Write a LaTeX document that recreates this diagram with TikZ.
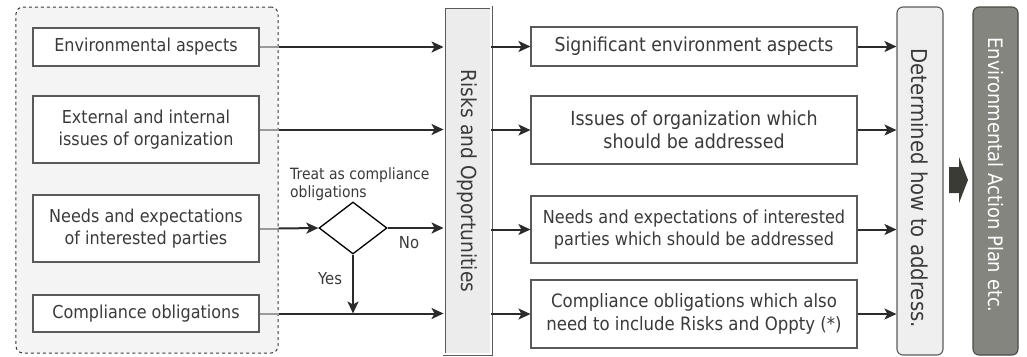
\documentclass[tikz,border=0pt]{standalone}
\usepackage{fontspec}
\setmainfont{DejaVu Sans}[FakeStretch=0.9]
\usetikzlibrary{shapes.geometric,arrows.meta}
\definecolor{txt}{HTML}{3A3A3A}
\definecolor{boxline}{HTML}{5A5A5A}
\definecolor{arrowc}{HTML}{2B2B2B}
\definecolor{stubc}{HTML}{9A9A9A}
\definecolor{contfill}{HTML}{F4F4F4}
\definecolor{rofill}{HTML}{ECECEC}
\definecolor{dhfill}{HTML}{EFEFEF}
\definecolor{eapfill}{HTML}{858580}
\definecolor{eapline}{HTML}{4A4A45}
\definecolor{blockc}{HTML}{3B3B36}
\tikzset{
  inbox/.style={draw=boxline, line width=1.1bp, fill=white, text=txt, inner sep=0pt,
    align=center, minimum width=226bp, font=\fontsize{17.8bp}{22.7bp}\selectfont},
  outbox/.style={draw=boxline, line width=1.1bp, fill=white, text=txt, inner sep=0pt,
    align=center, minimum width=326bp},
  flow/.style={draw=arrowc, line width=2bp, -{Stealth[length=12bp,width=11bp,inset=3bp]}},
  stub/.style={draw=stubc, line width=2bp},
  plain/.style={draw=arrowc, line width=2bp},
  smalltext/.style={text=txt, inner sep=0pt, font=\fontsize{15.5bp}{18.5bp}\selectfont},
  vtext/.style={text=txt, inner sep=0pt, rotate=-90},
}
\begin{document}
\begin{tikzpicture}[x=1bp,y=-1bp]
\useasboundingbox (0,0) rectangle (1027,356);

% container
\node[draw=txt, dashed, line width=1bp, fill=contfill, rounded corners=7bp,
      minimum width=262bp, minimum height=346bp, inner sep=0pt] (cont) at (147,180) {};

% left boxes
\node[inbox, minimum height=38bp] (L1) at (146,47) {Environmental aspects};
\node[inbox, minimum height=67bp] (L2) at (146,129.5) {External and internal\\issues of organization};
\node[inbox, minimum height=67bp] (L3) at (146,228.5) {Needs and expectations\\of interested parties};
\node[inbox, minimum height=37bp] (L4) at (146,313.5) {Compliance obligations};

% Risks and Opportunities
\node[draw=boxline, double=white, double distance=1.2bp, line width=0.9bp, fill=rofill,
      minimum width=47bp, minimum height=347bp, inner sep=0pt] (RO) at (467.5,180.5) {};
\node[vtext, font=\fontsize{20.7bp}{24bp}\selectfont] (ROt) at (467.5,181) {Risks and Opportunities};

% decision diamond
\node[diamond, draw=black, line width=1.3bp, fill=white, aspect=1.31,
      minimum width=68bp, minimum height=52bp, inner sep=0pt] (D) at (353,228) {};
\node[smalltext, anchor=west, align=left] (Dt) at (290,184) {Treat as compliance\\obligations};

% right boxes
\node[outbox, minimum height=39bp, font=\fontsize{19.2bp}{22.7bp}\selectfont] (M1) at (694,46.5) {Significant environment aspects};
\node[outbox, minimum height=68bp, font=\fontsize{19.4bp}{22.7bp}\selectfont] (M2) at (694,130) {Issues of organization which\\should be addressed};
\node[outbox, minimum height=67bp, font=\fontsize{17.9bp}{22.7bp}\selectfont] (M3) at (694,229.5) {Needs and expectations of interested\\parties which should be addressed};
\node[outbox, minimum height=68bp, font=\fontsize{18.4bp}{22.7bp}\selectfont] (M4) at (694,314) {Compliance obligations which also\\need to include Risks and Oppty (*)};

% Determined how to address
\node[draw=boxline, line width=1.1bp, fill=dhfill, rounded corners=6bp,
      minimum width=46bp, minimum height=348bp, inner sep=0pt] (DH) at (920,181) {};
\node[vtext, font=\fontsize{21.9bp}{24bp}\selectfont] (DHt) at (920,188) {Determined how to address.};

% Environmental Action Plan
\node[draw=eapline, line width=1.1bp, fill=eapfill, rounded corners=6bp,
      minimum width=45bp, minimum height=348bp, inner sep=0pt] (EAP) at (995.5,181) {};
\node[vtext, text=white, font=\fontsize{19.9bp}{24bp}\selectfont] (EAPt) at (995.5,175) {Environmental Action Plan etc.};

% block arrow
\fill[blockc] (949,167) -- (959,167) -- (959,157) -- (968,180) -- (959,203) -- (959,193) -- (949,193) -- cycle;

% left to R&O
\draw[stub] (L1.east) -- (L1.east -| cont.east);
\draw[flow] (L1.east -| cont.east) -- (L1.east -| RO.west);
\draw[stub] (L2.east) -- (L2.east -| cont.east);
\draw[flow] (L2.east -| cont.east) -- (L2.east -| RO.west);
\draw[stub] (L3.east) -- (L3.east -| cont.east);
\draw[flow] (L3.east -| cont.east) -- (D.west);
\draw[stub] (L4.east) -- (L4.east -| cont.east);
\draw[flow] (L4.east -| cont.east) -- (L4.east -| RO.west);
\coordinate (Yend) at (D.south |- L4.east);
\draw[flow] (D.south) -- (Yend);
\draw[flow] (D.east) -- (D.east -| RO.west);
\node[smalltext, font=\fontsize{16.5bp}{19bp}\selectfont] (No) at (409,243) {No};
\node[smalltext, font=\fontsize{16.5bp}{19bp}\selectfont] (Yes) at (330,279) {Yes};

% R&O to right boxes
\draw[flow] (M1.west -| RO.east) -- (M1.west);
\draw[flow] (M2.west -| RO.east) -- (M2.west);
\draw[flow] (M3.west -| RO.east) -- (M3.west);
\draw[flow] (M4.west -| RO.east) -- (M4.west);

% right boxes to DH
\draw[flow] (M1.east) -- (M1.east -| DH.west);
\draw[flow] (M2.east) -- (M2.east -| DH.west);
\draw[flow] (M3.east) -- (M3.east -| DH.west);
\draw[flow] (M4.east) -- (M4.east -| DH.west);
\end{tikzpicture}
\end{document}
